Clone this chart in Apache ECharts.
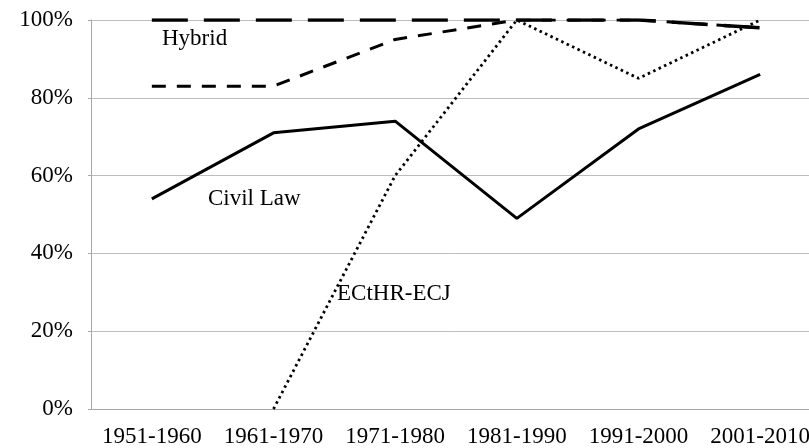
<!DOCTYPE html>
<html>
<head>
<meta charset="utf-8">
<script src="https://cdn.jsdelivr.net/npm/echarts@6/dist/echarts.min.js"></script>
<style>
  html, body { margin: 0; padding: 0; background: #fff; }
  #chart { width: 809px; height: 448px; }
</style>
</head>
<body>
<div id="chart"></div>
<script>
var categories = ['1951-1960', '1961-1970', '1971-1980', '1981-1990', '1991-2000', '2001-2010'];
var hybrid = [100, 100, 100, 100, 100, 98];
var dashed = [83, 83, 95, 100, 100, 98];
var civilLaw = [54, 71, 74, 49, 72, 86];
var ecthrEcj = [null, 0, 60, 100, 85, 100];
var yTicks = [0, 20, 40, 60, 80, 100];

var chart = echarts.init(document.getElementById('chart'));
var font = 'Liberation Serif';

var option = {
	backgroundColor: '#fff',
	animation: false,
	grid: {
		left: 91,
		right: -12,
		top: 20,
		bottom: 39,
		containLabel: false,
		outerBoundsMode: 'none'
	},
	xAxis: {
		type: 'category',
		data: categories,
		axisLine: { lineStyle: { color: '#a6a6a6', width: 1 } },
		axisTick: { show: false },
		axisLabel: {
			margin: 16,
			fontFamily: font,
			fontSize: 23,
			color: '#000',
			interval: 0,
			hideOverlap: false
		}
	},
	yAxis: {
		type: 'value',
		min: yTicks[0],
		max: yTicks[yTicks.length - 1],
		interval: 20,
		axisLine: { show: true, lineStyle: { color: '#a6a6a6', width: 1 } },
		axisTick: { show: true, length: 3, lineStyle: { color: '#a6a6a6' } },
		splitLine: { lineStyle: { color: '#bdbdbd', width: 1 } },
		axisLabel: {
			margin: 18,
			fontFamily: font,
			fontSize: 23,
			color: '#000',
			formatter: '{value}%'
		}
	},
	series: [{
		name: 'Hybrid',
		type: 'line',
		data: hybrid,
		showSymbol: false,
		lineStyle: { color: '#000', width: 3.5, type: [36, 16] }
	}, {
		name: 'Common Law',
		type: 'line',
		data: dashed,
		showSymbol: false,
		lineStyle: { color: '#000', width: 3, type: [14, 11] }
	}, {
		name: 'Civil Law',
		type: 'line',
		data: civilLaw,
		showSymbol: false,
		lineStyle: { color: '#000', width: 3 }
	}, {
		name: 'ECtHR-ECJ',
		type: 'line',
		data: ecthrEcj,
		showSymbol: false,
		lineStyle: { color: '#000', width: 2.8, type: [2.5, 3.5] }
	}],
	graphic: [{
		type: 'text', left: 162, top: 27,
		style: { text: 'Hybrid', font: '23px "Liberation Serif"', fill: '#000' }
	}, {
		type: 'text', left: 208, top: 187,
		style: { text: 'Civil Law', font: '23px "Liberation Serif"', fill: '#000' }
	}, {
		type: 'text', left: 337, top: 282,
		style: { text: 'ECtHR-ECJ', font: '23px "Liberation Serif"', fill: '#000' }
	}]
};

chart.setOption(option);
</script>
</body>
</html>
